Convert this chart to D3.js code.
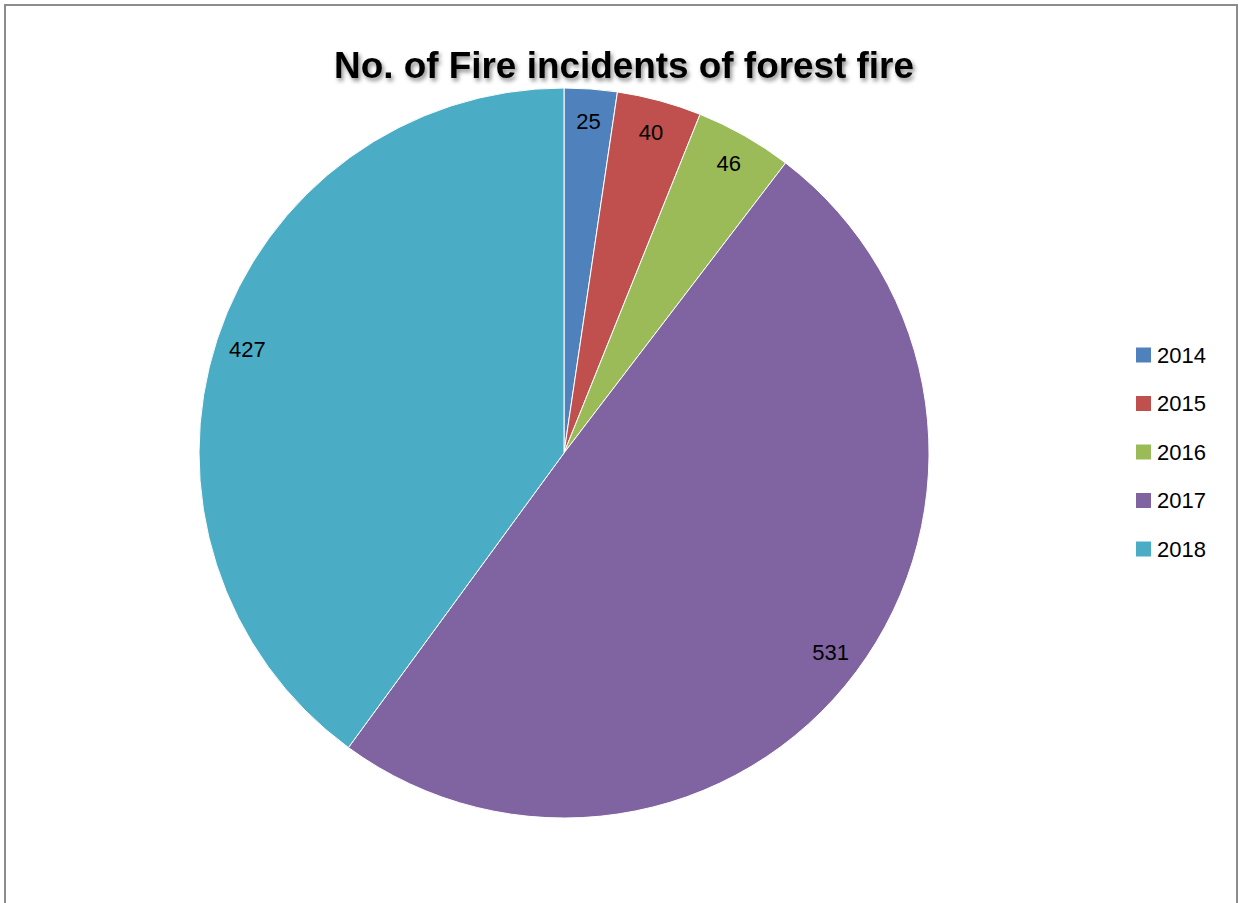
<!DOCTYPE html>
<html>
<head>
<meta charset="utf-8">
<script src="https://cdn.jsdelivr.net/npm/d3@7"></script>
<style>
  body { margin: 0; background: #fff; }
  svg { display: block; }
</style>
</head>
<body>
<svg width="1239" height="903"></svg>
<script>
// chart data
var years = ["2014", "2015", "2016", "2017", "2018"];
var incidents = [25, 40, 46, 531, 427];
var colors = ["#4F81BD", "#C0504D", "#9BBB59", "#8064A2", "#4BACC6"];
var title = "No. of Fire incidents of forest fire";

var svg = d3.select("svg");

// outer frame
svg.append("rect")
    .attr("x", 5).attr("y", 5)
    .attr("width", 1232).attr("height", 900)
    .style("fill", "none")
    .style("stroke", "#8c8c8c")
    .style("stroke-width", 2);

// title shadow filter
var defs = svg.append("defs");
var f = defs.append("filter").attr("id", "shadow")
    .attr("x", "-5%").attr("y", "-30%").attr("width", "110%").attr("height", "160%");
f.append("feDropShadow")
    .attr("dx", 2).attr("dy", 3)
    .attr("stdDeviation", 2)
    .attr("flood-color", "#000")
    .attr("flood-opacity", 0.45);

svg.append("text")
    .attr("x", 624).attr("y", 78)
    .attr("text-anchor", "middle")
    .attr("textLength", 580)
    .attr("lengthAdjust", "spacingAndGlyphs")
    .attr("filter", "url(#shadow)")
    .style("font-family", "'Liberation Sans', Arial, sans-serif")
    .style("font-weight", "bold")
    .style("font-size", "36px")
    .style("fill", "#000")
    .text(title);

// pie
var cx = 564, cy = 453, radius = 365;
var color = d3.scaleOrdinal().domain(years).range(colors);

var pie = d3.pie().sort(null).value(function(d, i) { return incidents[i]; });
var arcs = pie(years);

var arc = d3.arc().innerRadius(0).outerRadius(radius);
var labelArc = d3.arc().innerRadius(333).outerRadius(333);

var g = svg.append("g").attr("transform", "translate(" + cx + "," + cy + ")");

g.selectAll("path")
    .data(arcs)
  .enter().append("path")
    .attr("d", arc)
    .style("fill", function(d) { return color(d.data); })
    .style("stroke", "#fff")
    .style("stroke-width", 1);

g.selectAll("text.lbl")
    .data(arcs)
  .enter().append("text")
    .attr("class", "lbl")
    .attr("transform", function(d) { return "translate(" + labelArc.centroid(d) + ")"; })
    .attr("text-anchor", "middle")
    .attr("dy", "0.36em")
    .style("font-family", "'Liberation Sans', Arial, sans-serif")
    .style("font-size", "22px")
    .style("fill", "#000")
    .text(function(d, i) { return incidents[i]; });

// legend
var legendY = d3.scalePoint().domain(years).range([355, 549]);

var legend = svg.selectAll("g.legend")
    .data(years)
  .enter().append("g")
    .attr("class", "legend")
    .attr("transform", function(d) { return "translate(1136," + legendY(d) + ")"; });

legend.append("rect")
    .attr("x", 0).attr("y", -7.5)
    .attr("width", 15).attr("height", 15)
    .style("fill", function(d) { return color(d); });

legend.append("text")
    .attr("x", 21)
    .attr("dy", "0.36em")
    .style("font-family", "'Liberation Sans', Arial, sans-serif")
    .style("font-size", "22px")
    .style("fill", "#000")
    .text(function(d) { return d; });
</script>
</body>
</html>
